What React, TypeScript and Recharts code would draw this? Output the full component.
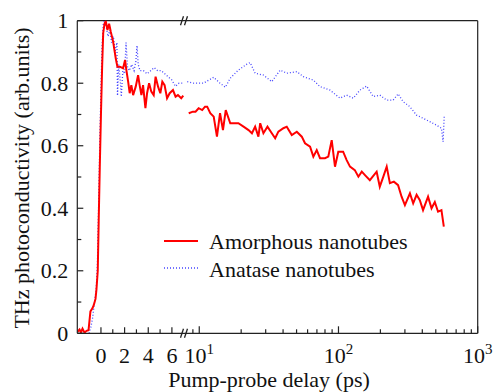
import { LineChart, Line, XAxis, YAxis } from "recharts";

const FONT = "'Liberation Serif', 'Times New Roman', Times, 'DejaVu Serif', serif";
const AXIS = "#222";
const txt = { fontFamily: FONT, fill: "#111" };

// amorphous nanotubes, left (linear) part of the delay axis, ps
const amorphLinT = [
  -1.98, -1.81, -1.69, -1.56, -1.39, -1.22, -1.05, -0.89, -0.72, -0.61,
  -0.46, -0.38, -0.27, -0.19, -0.1, 0, 0.1, 0.19, 0.3, 0.41,
  0.55, 0.69, 0.83, 1.03, 1.25, 1.39, 1.59, 1.87, 2.04, 2.15,
  2.3, 2.43, 2.57, 2.72, 2.94, 3.14, 3.27, 3.42, 3.56, 3.76,
  3.9, 4.07, 4.26, 4.46, 4.62, 4.83, 5.02, 5.19, 5.38, 5.59,
  5.81, 6.09, 6.31, 6.51, 6.79, 6.96,
];
const amorphLinV = [
  0.005, 0.012, 0.003, 0.015, 0.002, 0.008, 0.01, 0.07, 0.08, 0.09,
  0.11, 0.14, 0.2, 0.36, 0.53, 0.7, 0.853, 0.96, 0.99, 0.999,
  0.97, 0.99, 0.965, 0.933, 0.88, 0.853, 0.853, 0.848, 0.874, 0.842,
  0.805, 0.768, 0.794, 0.762, 0.789, 0.826, 0.794, 0.762, 0.794, 0.72,
  0.768, 0.8, 0.773, 0.762, 0.821, 0.789, 0.768, 0.805, 0.794, 0.752,
  0.768, 0.778, 0.757, 0.762, 0.752, 0.76,
];
// amorphous nanotubes, right (log) part
const amorphLogT = [
  8.4, 9.0, 9.4, 9.9, 10.5, 11.0, 11.4, 12.0, 12.7, 13.4,
  14.1, 14.8, 15.5, 16.7, 17.8, 19.1, 20.8, 22.6, 23.9, 25.2,
  26.6, 27.4, 28.9, 30.9, 33.2, 35.1, 37.0, 40.2, 42.5, 46.2,
  50.2, 54.5, 57.5, 62.5, 66, 69.8, 73.7, 80, 84.5, 89.4,
  94.4, 99.7, 108, 114.5, 121, 131, 139, 147, 155, 168,
  188, 198, 210, 222, 234, 250, 268, 284, 300, 326,
  344, 364, 384, 405, 440, 466, 492, 519, 549, 571,
];
const amorphLogV = [
  0.704, 0.709, 0.709, 0.72, 0.714, 0.725, 0.725, 0.704, 0.693, 0.629,
  0.704, 0.65, 0.714, 0.672, 0.672, 0.672, 0.661, 0.65, 0.64, 0.661,
  0.629, 0.672, 0.64, 0.661, 0.64, 0.624, 0.645, 0.656, 0.661, 0.634,
  0.645, 0.629, 0.608, 0.597, 0.565, 0.586, 0.56, 0.56, 0.565, 0.618,
  0.533, 0.581, 0.581, 0.554, 0.533, 0.522, 0.501, 0.517, 0.506, 0.49,
  0.517, 0.469, 0.501, 0.533, 0.48, 0.485, 0.474, 0.437, 0.41, 0.448,
  0.416, 0.443, 0.426, 0.394, 0.437, 0.4, 0.42, 0.389, 0.394, 0.341,
];

// anatase nanotubes
const anataseLinT = [
  -1.0, -0.85, -0.7, -0.55, -0.4, -0.3, -0.2, -0.1, 0, 0.1,
  0.2, 0.3, 0.45, 0.6, 0.75, 0.9, 1.05, 1.2, 1.35, 1.4,
  1.5, 1.65, 1.72, 1.85, 2.0, 2.12, 2.25, 2.4, 2.6, 2.8,
  2.95, 3.05, 3.15, 3.3, 3.6, 3.9, 4.2, 4.5, 4.8, 5.1,
  5.4, 5.7, 6.0, 6.3, 6.6, 6.9,
];
const anataseLinV = [
  0.0, 0.02, 0.05, 0.1, 0.14, 0.22, 0.4, 0.6, 0.78, 0.92,
  0.99, 1.0, 0.98, 0.95, 0.97, 0.93, 0.95, 0.9, 0.93, 0.76,
  0.86, 0.8, 0.757, 0.84, 0.83, 0.93, 0.85, 0.84, 0.86, 0.84,
  0.87, 0.92, 0.86, 0.84, 0.84, 0.83, 0.84, 0.85, 0.84, 0.84,
  0.83, 0.82, 0.81, 0.79, 0.8, 0.8,
];
const anataseLogT = [
  8.2, 9.1, 10.7, 12.7, 14.1, 15.4, 16.7, 19.1, 22, 23.2,
  25.2, 28.9, 33.2, 38.1, 42.5, 50.2, 56, 66, 73.7, 86.9,
  102.5, 114.5, 127.7, 142.6, 159.3, 177.7, 198.4, 221.6, 247.1, 268.4,
  291.4, 325.5, 363.6, 405.3, 452.8, 505.6, 549.3, 564, 575,
];
const anataseLogV = [
  0.805, 0.8, 0.8, 0.819, 0.8, 0.787, 0.816, 0.842, 0.861, 0.866,
  0.832, 0.826, 0.805, 0.842, 0.832, 0.837, 0.821, 0.81, 0.789, 0.778,
  0.752, 0.762, 0.752, 0.778, 0.791, 0.757, 0.762, 0.746, 0.746, 0.766,
  0.741, 0.725, 0.698, 0.688, 0.677, 0.666, 0.656, 0.613, 0.695,
];

// tick values, ps
const linMajor = [0, 2, 4, 6];
const linMinor = [1, 3, 5];
const logMajor = [10, 100, 1000];
const logMinor = [9, 20, 30, 40, 50, 60, 70, 80, 90, 200, 300, 400, 500, 600, 700, 800, 900];
const yTickVals = [0, 0.1, 0.2, 0.3, 0.4, 0.5, 0.6, 0.7, 0.8, 0.9, 1];
const yLabelVals = [0, 0.2, 0.4, 0.6, 0.8, 1];

// broken axis: linear up to the break, then log
const LIN_PX = 11.85;
const DEC_PX = 139.5;
const BREAK = 7.4;
const pos = (t: number) =>
  t <= BREAK ? t * LIN_PX : 98.5 + (Math.log10(t) - 1) * DEC_PX;

function build(linT: number[], linV: number[], logT: number[], logV: number[]) {
  return [
    ...linT.map((t, i) => ({ u: pos(t), v: linV[i] as number | null })),
    { u: pos(7), v: null },
    ...logT.map((t, i) => ({ u: pos(t), v: logV[i] as number | null })),
  ];
}

const amorph = build(amorphLinT, amorphLinV, amorphLogT, amorphLogV);
const anatase = build(anataseLinT, anataseLinV, anataseLogT, anataseLogV);

type XTick = { u: number; len: number; label?: string; exp?: string };
const xTicks: XTick[] = [
  ...linMajor.map((t) => ({ u: pos(t), len: 6, label: String(t) })),
  ...linMinor.map((t) => ({ u: pos(t), len: 4 })),
  ...logMajor.map((t) => ({ u: pos(t), len: 7, label: "10", exp: String(Math.log10(t)) })),
  ...logMinor.map((t) => ({ u: pos(t), len: 4 })),
];

function XTickMark(props: any) {
  const { x, y, payload } = props;
  const d = xTicks.find((k) => Math.abs(k.u - payload.value) < 1e-6);
  if (!d) return <g />;
  return (
    <g>
      <line x1={x} x2={x} y1={y} y2={y - d.len} stroke={AXIS} strokeWidth={1.2} />
      {d.label && (
        <text x={x} y={y + 30} textAnchor="middle" fontSize={22} style={txt}>
          {d.label}
          {d.exp && (
            <tspan dy={-9} fontSize={15}>
              {d.exp}
            </tspan>
          )}
        </text>
      )}
    </g>
  );
}

function YTickMark(props: any) {
  const { x, y, payload } = props;
  const v = payload.value as number;
  const major = yLabelVals.some((l) => Math.abs(l - v) < 1e-6);
  return (
    <g>
      <line x1={x} x2={x + (major ? 6 : 4)} y1={y} y2={y} stroke={AXIS} strokeWidth={1.2} />
      {major && (
        <text x={x - 9} y={y + 7.5} textAnchor="end" fontSize={22} style={txt}>
          {String(Math.round(v * 10) / 10)}
        </text>
      )}
    </g>
  );
}

function BreakMark({ cy }: { cy: number }) {
  return (
    <g stroke={AXIS} strokeWidth={1.3}>
      <line x1={180.5} y1={cy + 4.5} x2={183.5} y2={cy - 4.5} />
      <line x1={184.5} y1={cy + 4.5} x2={187.5} y2={cy - 4.5} />
    </g>
  );
}

// plot box edges in px
const L = 77.3;
const R = 477.7;
const T = 20.7;
const B = 333.3;

export default function App() {
  const domain = [pos(-2), pos(1000)];
  return (
    <div style={{ position: "absolute", left: 0, top: 0, fontFamily: FONT }}>
      <LineChart
        width={494}
        height={392}
        margin={{ top: T, right: 494 - R, bottom: 0, left: 0 }}
        style={{ fontFamily: FONT }}
      >
        <XAxis
          xAxisId="b"
          type="number"
          dataKey="u"
          domain={domain}
          allowDataOverflow
          ticks={xTicks.map((k) => k.u)}
          interval={0}
          tickSize={0}
          tickMargin={0}
          tick={<XTickMark />}
          height={392 - B}
          axisLine={{ stroke: AXIS, strokeWidth: 1.2 }}
        />
        <YAxis
          yAxisId="l"
          type="number"
          domain={[0, 1]}
          allowDataOverflow
          ticks={yTickVals}
          interval={0}
          tickSize={0}
          tickMargin={0}
          tick={<YTickMark />}
          width={L}
          axisLine={{ stroke: AXIS, strokeWidth: 1.2 }}
        />
        <Line
          xAxisId="b"
          yAxisId="l"
          data={anatase}
          dataKey="v"
          stroke="#4646ff"
          strokeWidth={1.3}
          strokeDasharray="1 2"
          dot={false}
          isAnimationActive={false}
        />
        <Line
          xAxisId="b"
          yAxisId="l"
          data={amorph}
          dataKey="v"
          stroke="#ff0000"
          strokeWidth={2}
          dot={false}
          isAnimationActive={false}
        />

        {/* top and right frame */}
        <g stroke={AXIS} strokeWidth={1.2} fill="none">
          <line x1={L} x2={R} y1={T} y2={T} />
          <line x1={R} x2={R} y1={T} y2={B} />
        </g>
        <BreakMark cy={T} />
        <BreakMark cy={B} />

        {/* legend */}
        <line x1={164} x2={198} y1={241} y2={241} stroke="#ff0000" strokeWidth={2} />
        <text x={209} y={249} fontSize={22} style={txt}>
          Amorphous nanotubes
        </text>
        <line x1={164} x2={198} y1={268} y2={268} stroke="#4646ff" strokeWidth={1.3} strokeDasharray="1 2" />
        <text x={209} y={277} fontSize={22} style={txt}>
          Anatase nanotubes
        </text>

        {/* axis titles */}
        <text x={269} y={387} textAnchor="middle" fontSize={22} style={txt}>
          Pump-probe delay (ps)
        </text>
        <text
          transform="rotate(-90)"
          x={-178}
          y={29}
          textAnchor="middle"
          fontSize={22}
          style={txt}
        >
          THz photoconductivity (arb.units)
        </text>
      </LineChart>
    </div>
  );
}
